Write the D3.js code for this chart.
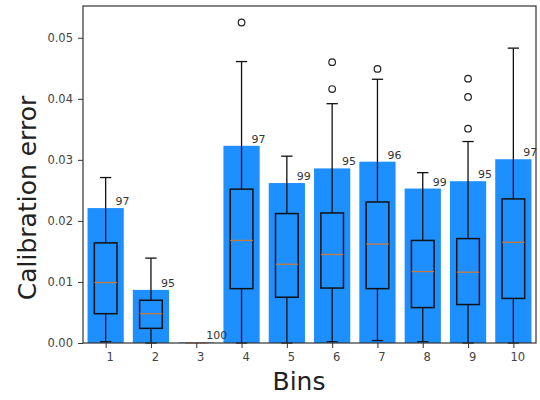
<!DOCTYPE html>
<html>
<head>
<meta charset="utf-8">
<script src="https://cdn.jsdelivr.net/npm/d3@7"></script>
<style>
  body { margin: 0; background: #fff; }
  text { font-family: "DejaVu Sans", sans-serif; }
</style>
</head>
<body>
<svg id="chart" width="540" height="400"></svg>
<script>
// ------- Data -------
const bins = [1, 2, 3, 4, 5, 6, 7, 8, 9, 10];
const barHeights = [0.0221, 0.0087, 0.0001, 0.0323, 0.0262, 0.0286, 0.0297, 0.0253, 0.0265, 0.0301];
const barLabels = ['97', '95', '100', '97', '99', '95', '96', '99', '95', '97'];
const whiskLo = [0.0002, 0.0, 0.0, 0.0, 0.0, 0.0002, 0.0004, 0.0002, 0.0, 0.0];
const q1 = [0.0048, 0.0024, 0.0, 0.0089, 0.0075, 0.0090, 0.0089, 0.0058, 0.0063, 0.0073];
const medians = [0.0099, 0.0048, 0.0, 0.0168, 0.0129, 0.0145, 0.0162, 0.0117, 0.0116, 0.0165];
const q3 = [0.0164, 0.0070, 0.0, 0.0252, 0.0212, 0.0213, 0.0231, 0.0168, 0.0171, 0.0236];
const whiskHi = [0.0271, 0.0139, 0.0, 0.0461, 0.0306, 0.0392, 0.0432, 0.0279, 0.0330, 0.0483];
const outliers = [[], [], [], [0.0525], [], [0.0460, 0.0416], [0.0449], [], [0.0433, 0.0403, 0.0351], []];
const yTicks = [0, 0.01, 0.02, 0.03, 0.04, 0.05];

// ------- Set up -------
const svg = d3.select('#chart');
const margin = {top: 6, left: 83, right: 4, bottom: 57};
const width = +svg.attr('width');
const height = +svg.attr('height');
const innerWidth = width - margin.left - margin.right;
const innerHeight = height - margin.top - margin.bottom;

const g = svg.append('g')
    .attr('transform', `translate(${margin.left}, ${margin.top})`);

const x = d3.scaleLinear().domain([0.5, 10.5]).range([0, innerWidth]);
const y = d3.scaleLinear().domain([0, 0.0552]).range([innerHeight, 0]);
const unit = x(1) - x(0);

// ------- Bars -------
g.selectAll('rect.bar')
    .data(bins)
    .enter()
    .append('rect')
        .attr('class', 'bar')
        .attr('x', d => x(d - 0.4))
        .attr('width', unit * 0.8)
        .attr('y', (d, i) => y(barHeights[i]))
        .attr('height', (d, i) => y(0) - y(barHeights[i]))
        .attr('fill', '#1e8fff');

// ------- Boxplots -------
const boxes = g.selectAll('g.box')
    .data(bins)
    .enter()
    .append('g')
        .attr('class', 'box');

const line = (sel, x1, x2, y1, y2) => sel.append('line')
    .attr('x1', x1).attr('x2', x2).attr('y1', y1).attr('y2', y2);

boxes.each(function(d, i) {
    const b = d3.select(this);
    const cx = x(d);
    const hw = unit * 0.25;
    const cw = unit * 0.125;
    if (d === 3) {
        line(b, cx - hw, cx + hw, y(0), y(0)).attr('stroke', '#c87a3c').attr('stroke-width', 1.2);
        return;
    }
    const k = '#111';
    line(b, cx, cx, y(whiskHi[i]), y(q3[i])).attr('stroke', k).attr('stroke-width', 1.3);
    line(b, cx, cx, y(q1[i]), y(whiskLo[i])).attr('stroke', k).attr('stroke-width', 1.3);
    line(b, cx - cw, cx + cw, y(whiskHi[i]), y(whiskHi[i])).attr('stroke', k).attr('stroke-width', 1.3);
    line(b, cx - cw, cx + cw, y(whiskLo[i]), y(whiskLo[i])).attr('stroke', k).attr('stroke-width', 1.3);
    b.append('rect')
        .attr('x', cx - hw)
        .attr('width', hw * 2)
        .attr('y', y(q3[i]))
        .attr('height', y(q1[i]) - y(q3[i]))
        .attr('fill', 'none')
        .attr('stroke', k)
        .attr('stroke-width', 1.5);
    line(b, cx - hw, cx + hw, y(medians[i]), y(medians[i])).attr('stroke', '#c87a3c').attr('stroke-width', 1.3);
    b.selectAll('circle')
        .data(outliers[i])
        .enter()
        .append('circle')
            .attr('cx', cx)
            .attr('cy', v => y(v))
            .attr('r', 3.3)
            .attr('fill', 'none')
            .attr('stroke', '#222')
            .attr('stroke-width', 1.2);
});

// ------- Bar count labels -------
g.selectAll('text.count')
    .data(bins)
    .enter()
    .append('text')
        .attr('class', 'count')
        .attr('x', d => x(d + 0.22))
        .attr('y', (d, i) => y(barHeights[i]) - 3)
        .attr('font-size', 11)
        .attr('fill', '#333')
        .text((d, i) => barLabels[i]);

// ------- Axes -------
const xAxis = g.append('g')
    .attr('transform', `translate(0, ${innerHeight})`)
    .call(d3.axisBottom(x).tickValues(bins).tickSize(5).tickSizeOuter(0).tickFormat(d3.format('d')));
xAxis.selectAll('text').attr('font-size', 11.5).attr('fill', '#444').attr('dx', 4).attr('dy', '0.9em');

const yAxis = g.append('g')
    .call(d3.axisLeft(y).tickValues(yTicks).tickSize(5).tickSizeOuter(0).tickFormat(d3.format('.2f')));
yAxis.selectAll('text').attr('font-size', 11.5).attr('fill', '#444').attr('dx', -2);

[xAxis, yAxis].forEach(a => {
    a.select('.domain').remove();
    a.selectAll('line').attr('stroke', '#333');
});

g.append('rect')
    .attr('width', innerWidth)
    .attr('height', innerHeight)
    .attr('fill', 'none')
    .attr('stroke', '#333')
    .attr('stroke-width', 1.2);

// ------- Axis titles -------
svg.append('text')
    .attr('transform', 'translate(36, 198) rotate(-90)')
    .attr('text-anchor', 'middle')
    .attr('font-size', 25)
    .attr('fill', '#222')
    .text('Calibration error');

svg.append('text')
    .attr('x', 299)
    .attr('y', 390)
    .attr('text-anchor', 'middle')
    .attr('font-size', 25)
    .attr('fill', '#222')
    .text('Bins');
</script>
</body>
</html>
